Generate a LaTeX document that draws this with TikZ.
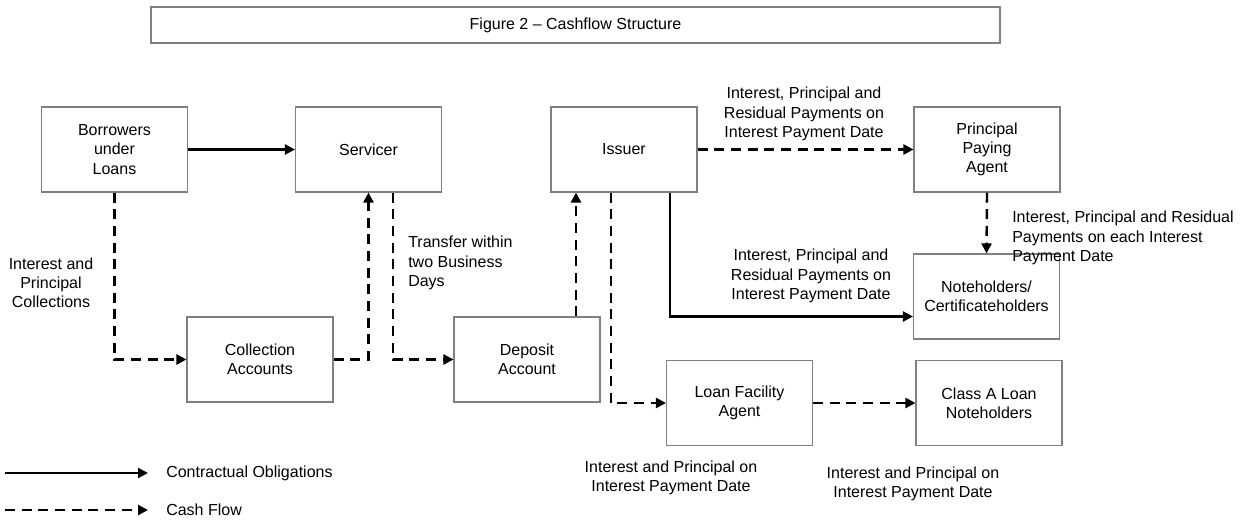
\documentclass[tikz,border=0pt]{standalone}
\usepackage{fontspec}
\setmainfont{Liberation Sans}
\usetikzlibrary{arrows.meta,calc}
\begin{document}
\begin{tikzpicture}[x=0.75pt,y=-0.75pt,
  txt/.style={font=\fontsize{12}{14.4}\selectfont},
  box/.style={txt,draw=black!50,line width=0.8pt,minimum width=109.5pt,minimum height=63.75pt,align=center,inner sep=0pt},
  lbl/.style={txt,align=center,inner sep=0pt},
  lbll/.style={txt,align=left,inner sep=0pt},
  co/.style={line width=1.6pt,-{Triangle[length=7.5pt,width=7.5pt]}},
  cf/.style={line width=1.8pt,-{Triangle[length=7.5pt,width=7.5pt]},dash pattern=on 7.5pt off 5pt}]
\useasboundingbox (0,0) rectangle (1245,523);
% title
\node[txt,draw=black!50,line width=0.8pt,minimum width=636.75pt,minimum height=27pt,inner sep=0pt] (title) at (575.5,25) {Figure 2 -- Cashflow Structure};
% boxes
\node[box] (Borrowers) at (114.5,149.5) {Borrowers\\under\\Loans};
\node[box] (Servicer) at (368.5,149.5) {Servicer};
\node[box] (Issuer) at (624,149.5) {Issuer};
\node[box] (PPA) at (987,149.5) {Principal\\Paying\\Agent};
\node[box] (Collection) at (260,359.5) {Collection\\Accounts};
\node[box] (Deposit) at (527,359.5) {Deposit\\Account};
\node[box] (Noteholders) at (986.5,296.5) {Noteholders/\\Certificateholders};
\node[box] (LFA) at (739.5,403) {Loan Facility\\Agent};
\node[box] (ClassA) at (989,403) {Class A Loan\\Noteholders};
% helper coordinates
\coordinate (sd) at ($(Servicer.south)+(24.5,0)$);
\coordinate (iu) at ($(Issuer.south)+(-48,0)$);
\coordinate (id) at ($(Issuer.south)+(-13,0)$);
\coordinate (is) at ($(Issuer.south)+(46,0)$);
\coordinate (nw) at ($(Noteholders.west)+(0,20)$);
% connectors
\draw[co] (Borrowers.east) -- (Servicer.west);
\draw[cf] (Borrowers.south) |- (Collection.west);
\draw[cf] (Collection.east) -| (Servicer.south);
\draw[cf] (sd) |- (Deposit.west);
\draw[cf] (iu |- Deposit.north) -- (iu);
\draw[cf] (id) |- (LFA.west);
\draw[co] (is) |- (nw);
\draw[cf] (Issuer.east) -- (PPA.west);
\draw[cf] (PPA.south) -- (Noteholders.north);
\draw[cf] (LFA.east) -- (ClassA.west);
% labels
\node[lbl] (l1) at (804,114) {Interest, Principal and\\Residual Payments on\\Interest Payment Date};
\node[lbll,anchor=west] (l2) at (1012,238) {Interest, Principal and Residual\\Payments on each Interest\\Payment Date};
\node[lbl] (l3) at (811,276) {Interest, Principal and\\Residual Payments on\\Interest Payment Date};
\node[lbl] (l4) at (51,283) {Interest and\\Principal\\Collections};
\node[lbll,anchor=west] (l5) at (408,263) {Transfer within\\two Business\\Days};
\node[lbl] (l6) at (671,478) {Interest and Principal on\\Interest Payment Date};
\node[lbl] (l7) at (913,484) {Interest and Principal on\\Interest Payment Date};
% legend
\coordinate (a1) at (5,473);
\coordinate (a2) at (148,473);
\coordinate (b1) at (5,510);
\coordinate (b2) at (148,510);
\draw[co] (a1) -- (a2);
\draw[cf] (b1) -- (b2);
\node[txt,anchor=west,inner sep=0pt] (lg1) at (166,473) {Contractual Obligations};
\node[txt,anchor=west,inner sep=0pt] (lg2) at (166,510) {Cash Flow};
\end{tikzpicture}
\end{document}
